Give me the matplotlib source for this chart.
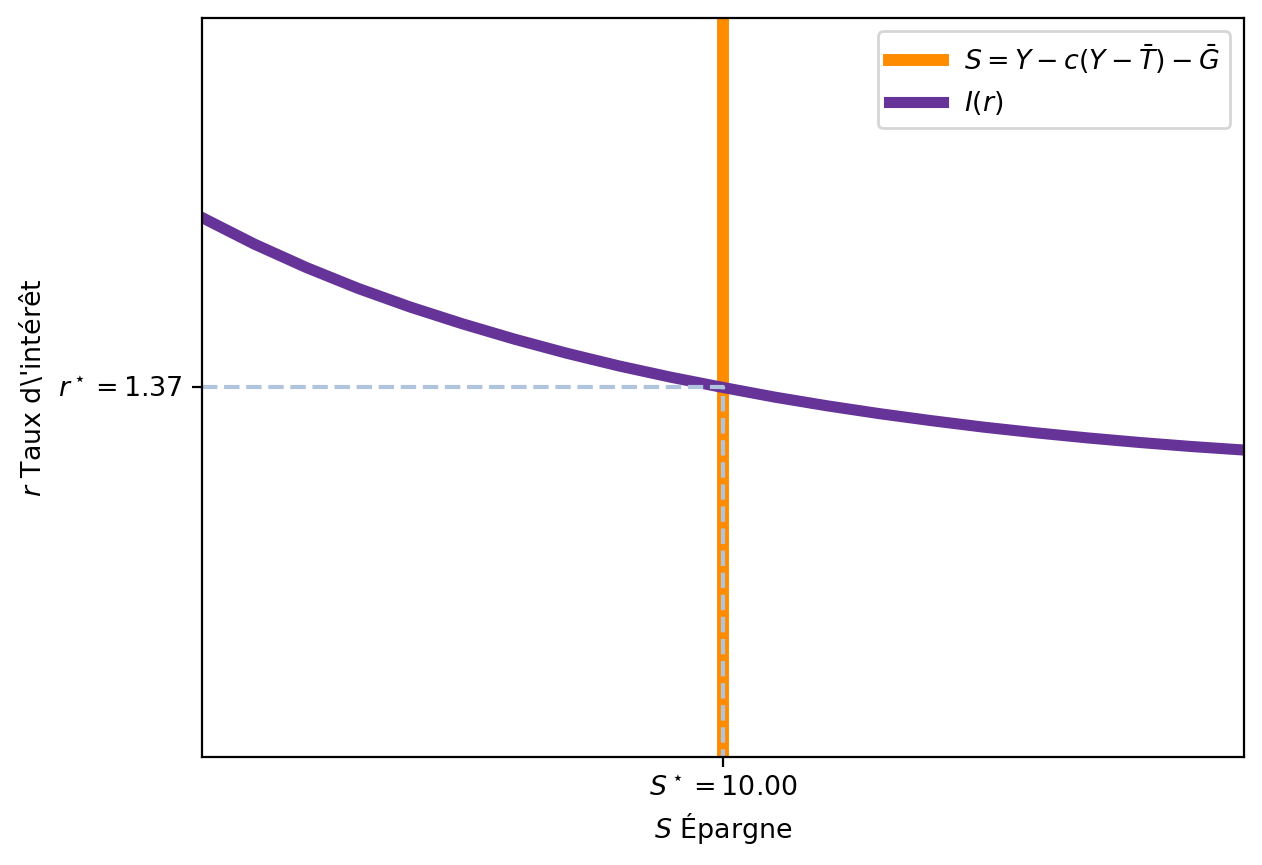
import matplotlib
matplotlib.use("Agg")
import matplotlib.pyplot as plt

plt.rcParams['font.size'] = 9.7

# equilibre epargne / investissement
s_star = 10.0
r_star = 1.37

# I(r) courbe
invest = [0, 1, 2, 3, 4, 5, 6, 7, 8, 9, 10,
          11, 12, 13, 14, 15, 16, 17, 18, 19, 20]
rate = [2.000, 1.902, 1.815, 1.737, 1.668, 1.606, 1.549, 1.497, 1.450, 1.408, 1.370,
        1.334, 1.302, 1.273, 1.247, 1.223, 1.202, 1.183, 1.166, 1.151, 1.138]

x_range = [0, 20]
y_range = [0, 2.74]

fig = plt.figure(figsize=(6.31, 4.325), dpi=200)
ax = fig.add_axes([0.1601, 0.1249, 0.8256, 0.8543])

ax.axvline(s_star, color='darkorange', lw=4.3,
           label=r'$S = Y - c(Y - \bar{T}) - \bar{G}$')
ax.plot(invest, rate, color='rebeccapurple', lw=4, label=r'$I(r)$')

# lignes pointillees vers les axes
ax.plot([x_range[0], s_star, s_star], [r_star, r_star, y_range[0]],
        color='lightsteelblue', lw=1.5, linestyle='--')

ax.set_xlim(x_range)
ax.set_ylim(y_range)
ax.set_xticks([s_star])
ax.set_xticklabels([r'$S^\star = %.2f$' % s_star])
ax.set_yticks([r_star])
ax.set_yticklabels([r'$r^\star = %.2f$' % r_star])
ax.set_xlabel(r'$S$ Épargne', labelpad=3)
ax.set_ylabel("$r$ Taux d\\'intérêt")
ax.legend(loc='upper right')

fig.savefig('out.png', dpi=200)
